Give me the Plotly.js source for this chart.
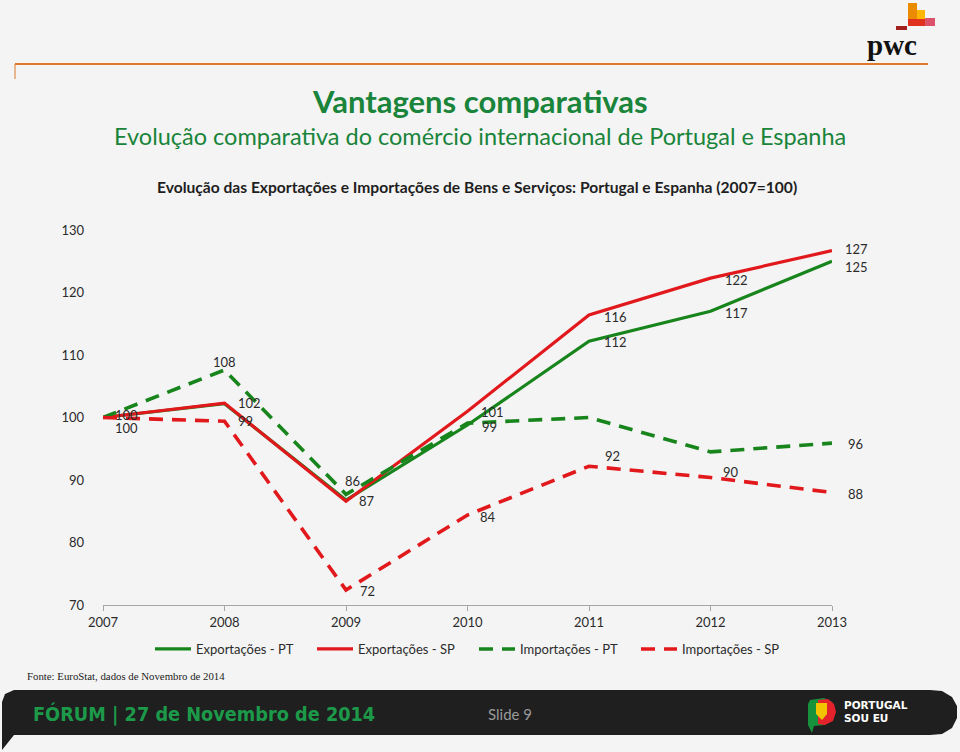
<!DOCTYPE html>
<html>
<head>
<meta charset="utf-8">
<script src="https://cdn.plot.ly/plotly-3.0.1.min.js"></script>
<style>
html,body{margin:0;padding:0;background:#f4f4f4;}
#chart{width:960px;height:752px;}
</style>
</head>
<body>
<div id="chart"></div>
<script>
// ---- data ----
var years = [2007, 2008, 2009, 2010, 2011, 2012, 2013];
var exportsPT = [100, 102.2, 86.8, 98.8, 112.2, 117, 125];
var exportsSP = [100, 102.3, 86.6, 101, 116.4, 122.3, 126.7];
var importsPT = [100, 107.6, 87.7, 99.1, 100, 94.5, 95.9];
var importsSP = [100, 99.4, 72.4, 84.4, 92.2, 90.4, 88];

// data labels as shown on the chart ('' = no label)
var labelsExportsPT = ['100', '', '87', '', '112', '117', '125'];
var labelsExportsSP = ['100', '102', '86', '101', '116', '122', '127'];
var labelsImportsPT = ['', '108', '', '99', '', '', '96'];
var labelsImportsSP = ['', '99', '72', '84', '92', '90', '88'];

var seriesNames = ['Exportações - PT', 'Exportações - SP', 'Importações - PT', 'Importações - SP'];
var yTicks = [70, 80, 90, 100, 110, 120, 130];

// ---- styling ----
var GREEN = '#17851c', RED = '#e2191c';
var FONT = 'Lato, "Open Sans", sans-serif';
var L = 103, R = 832, T = 230, B = 605, W = 960, H = 752;
function px(x){ return (x - L) / (R - L); }
function py(y){ return (B - y) / (B - T); }

// label offsets [xshift, yshift] (pixels) per series/point
var defOff = [23, -1];
var offsets = [
  {0:[23,-10], 2:[21,-1], 4:[26,-1], 5:[26,-2], 6:[24,-6]},
  {0:[23,3], 1:[25,0], 2:[6,20], 3:[25,-1], 4:[26,-2], 5:[26,-2], 6:[24,2]},
  {1:[0,8], 3:[22,-4], 6:[23,-1]},
  {1:[21,0], 2:[21,-1], 3:[20,-2], 4:[23,10], 5:[20,6], 6:[23,-1]}
];

var values = [exportsPT, exportsSP, importsPT, importsSP];
var labels = [labelsExportsPT, labelsExportsSP, labelsImportsPT, labelsImportsSP];
var colors = [GREEN, RED, GREEN, RED];
var dashes = ['solid', 'solid', '14px,9px', '14px,9px'];
var widths = [3.2, 3.2, 3.6, 3.6];

var traces = values.map(function(v, i){
  return {
    x: years, y: v, name: seriesNames[i], type: 'scatter', mode: 'lines',
    line: {color: colors[i], width: widths[i], dash: dashes[i]},
    hoverinfo: 'x+y+name'
  };
});

var annotations = [];
labels.forEach(function(arr, s){
  arr.forEach(function(t, k){
    if (!t) return;
    var o = offsets[s][k] || defOff;
    annotations.push({
      x: years[k], y: values[s][k], xref: 'x', yref: 'y', text: t,
      showarrow: false, xanchor: 'center', yanchor: 'middle',
      xshift: o[0], yshift: o[1],
      font: {family: FONT, size: 13, color: '#2b2b2b'}
    });
  });
});

function pAnn(x, y, text, font, xa){
  return {xref: 'paper', yref: 'paper', x: px(x), y: py(y), text: text, showarrow: false,
    xanchor: xa || 'center', yanchor: 'middle', font: font};
}

annotations.push(pAnn(480, 101, '<b>Vantagens comparativas</b>', {family: FONT, size: 31, color: '#19843a'}));
annotations.push(pAnn(480, 136, 'Evolução comparativa do comércio internacional de Portugal e Espanha', {family: FONT, size: 23.5, color: '#19843a'}));
annotations.push(pAnn(477, 187, '<b>Evolução das Exportações e Importações de Bens e Serviços: Portugal e Espanha (2007=100)</b>', {family: FONT, size: 15.6, color: '#1e1e1e'}));
annotations.push(pAnn(25, 676, 'Fonte: EuroStat, dados de Novembro de 2014', {family: '"Liberation Serif", "DejaVu Serif", serif', size: 10.8, color: '#222'}, 'left'));
annotations.push(pAnn(892, 45, '<b>pwc</b>', {family: '"Liberation Serif", "DejaVu Serif", serif', size: 29, color: '#111'}));
annotations.push(pAnn(31, 714, '<b>FÓRUM | 27 de Novembro de 2014</b>', {family: '"DejaVu Sans Condensed", "Liberation Sans Narrow", sans-serif', size: 19.7, color: '#1c9a4a'}, 'left'));
annotations.push(pAnn(510, 714, 'Slide 9', {family: FONT, size: 15, color: '#9a9a9a'}));
annotations.push(pAnn(842, 705, '<b>PORTUGAL</b>', {family: '"DejaVu Sans", sans-serif', size: 10.5, color: '#ffffff'}, 'left'));
annotations.push(pAnn(842, 718, '<b>SOU EU</b>', {family: '"DejaVu Sans", sans-serif', size: 10.5, color: '#ffffff'}, 'left'));

function rect(x0, y0, x1, y1, color){
  return {type: 'rect', xref: 'paper', yref: 'paper', x0: px(x0), x1: px(x1), y0: py(y1), y1: py(y0),
    fillcolor: color, line: {width: 0}, layer: 'above'};
}
function pathP(pts, color){
  var d = pts.map(function(p, i){ return (i ? 'L' : 'M') + px(p[0]) + ',' + py(p[1]); }).join(' ') + ' Z';
  return {type: 'path', xref: 'paper', yref: 'paper', path: d, fillcolor: color, line: {width: 0}, layer: 'above'};
}

var shapes = [
  {type: 'line', xref: 'paper', yref: 'paper', x0: px(15), x1: px(928), y0: py(64), y1: py(64), line: {color: '#e0782a', width: 2}},
  {type: 'line', xref: 'paper', yref: 'paper', x0: px(15), x1: px(15), y0: py(64), y1: py(79), line: {color: '#e0782a', width: 1}},
  // pwc blocks
  rect(896, 26, 907, 30, '#a32020'),
  rect(908, 3, 917, 20, '#eb8c00'),
  rect(917, 10, 925, 20, '#ffb600'),
  rect(908, 19, 933, 26, '#e0301e'),
  rect(925, 18, 935, 26, '#db536a'),
  // footer bar
  pathP([[14,690],[930,690],[942,691],[952,697],[957,706],[957,718],[952,728],[942,734],[930,735],[14,735],[2,750],[2,702],[5,694]], '#1f1f1f'),
  // Portugal sou eu logo
  pathP([[810,700],[824,698],[832,702],[835,711],[832,720],[824,725],[814,726],[812,733],[808,725],[808,704]], '#16913c'),
  pathP([[818,700],[828,699],[834,704],[836,712],[833,721],[825,725],[818,724]], '#e3222b'),
  pathP([[816,703],[827,703],[827,714],[822,720],[816,714]], '#f2c300')
];

var layout = {
  width: W, height: H,
  paper_bgcolor: '#f4f4f4', plot_bgcolor: '#f4f4f4',
  margin: {l: L, r: W - R, t: T, b: H - B, pad: 0},
  showlegend: true,
  legend: {orientation: 'h', x: px(150), xanchor: 'left', y: py(649), yanchor: 'middle',
    font: {family: FONT, size: 13, color: '#2b2b2b'}, bgcolor: 'rgba(0,0,0,0)', itemwidth: 36,
    entrywidth: 111, entrywidthmode: 'pixels'},
  xaxis: {range: [2007, 2013], tickvals: years, ticktext: years.map(String), showgrid: false, zeroline: false,
    showline: true, linecolor: '#a6a6a6', linewidth: 1, ticks: 'outside', ticklen: 5, tickcolor: '#a6a6a6',
    tickfont: {family: FONT, size: 13, color: '#2b2b2b'}, fixedrange: true},
  yaxis: {range: [70, 130], tickvals: yTicks, showgrid: false, zeroline: false, showline: false,
    ticks: '', ticklabelstandoff: 18, tickfont: {family: FONT, size: 13, color: '#2b2b2b'}, fixedrange: true},
  annotations: annotations,
  shapes: shapes
};

Plotly.newPlot('chart', traces, layout, {displayModeBar: false, staticPlot: true});
</script>
</body>
</html>
